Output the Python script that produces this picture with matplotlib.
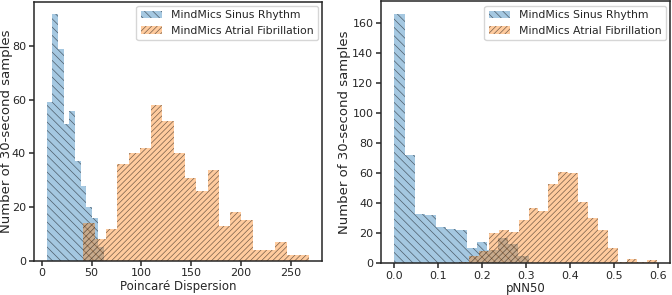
import matplotlib

matplotlib.use("Agg")
import matplotlib.pyplot as plt  # noqa: E402
import numpy as np  # noqa: E402

# ---- data: counts per equal-width bin over each (min, max) range ----------
PD_SINUS_RANGE = (5.0, 62.0)
PD_SINUS_COUNTS = [59, 92, 79, 51, 56, 37, 28, 20, 16, 5]
PD_AF_RANGE = (41.9, 268.3)
PD_AF_COUNTS = [14, 8, 12, 36, 40, 42, 58, 52, 40, 31,
                26, 34, 13, 18, 15, 4, 4, 7, 2, 2]

PNN_SINUS_RANGE = (0.0, 0.306)
PNN_SINUS_COUNTS = [166, 72, 33, 32, 24, 23, 22, 10, 14, 9, 17, 13, 5]
PNN_AF_RANGE = (0.148, 0.598)
PNN_AF_COUNTS = [1, 5, 8, 20, 22, 21, 29, 37, 35, 53,
                 61, 60, 41, 30, 22, 10, 1, 3, 1, 2]

LABEL_SR = "MindMics Sinus Rhythm"
LABEL_AF = "MindMics Atrial Fibrillation"
YLABEL = "Number of 30-second samples"

BLUE = "#1f77b4"
ORANGE = "#ff7f0e"
INK = "#262626"

plt.rcParams.update({
    "font.family": "DejaVu Sans",
    "font.size": 8,
    "axes.edgecolor": INK,
    "axes.linewidth": 1.1,
    "text.color": INK,
    "axes.labelcolor": INK,
    "xtick.color": INK,
    "ytick.color": INK,
    "xtick.major.size": 3.5,
    "ytick.major.size": 3.5,
    "xtick.major.width": 1.1,
    "ytick.major.width": 1.1,
    "xtick.major.pad": 2,
    "ytick.major.pad": 2,
    "hatch.color": "#00000088",
    "hatch.linewidth": 0.5,
})


def draw_hist(ax, rng, counts, **kw):
    edges = np.linspace(rng[0], rng[1], len(counts) + 1)
    centers = (edges[:-1] + edges[1:]) / 2
    ax.hist(centers, bins=edges, weights=counts, histtype="stepfilled",
            alpha=0.4, **kw)


def panel(ax, sr_rng, sr_counts, af_rng, af_counts, xlabel, ylab_x):
    draw_hist(ax, sr_rng, sr_counts, color=BLUE, hatch="\\\\\\\\", label=LABEL_SR)
    draw_hist(ax, af_rng, af_counts, color=ORANGE, hatch="//////", label=LABEL_AF)
    ax.set_xlabel(xlabel, fontsize=8.5, labelpad=1)
    ax.set_ylabel(YLABEL, fontsize=9.5)
    ax.yaxis.set_label_coords(ylab_x, 0.5)
    ax.legend(loc="upper right", fontsize=7.8, handlelength=2.0,
              handletextpad=0.8, edgecolor="#cccccc", framealpha=0.8,
              borderpad=0.4, borderaxespad=0.4)


fig = plt.figure(figsize=(6.72, 2.95), dpi=100)
ax1 = fig.add_axes([0.0499, 0.1163, 0.4298, 0.878])
ax2 = fig.add_axes([0.567, 0.1075, 0.4305, 0.8875])

panel(ax1, PD_SINUS_RANGE, PD_SINUS_COUNTS, PD_AF_RANGE, PD_AF_COUNTS,
      "Poincaré Dispersion", -0.07)
ax1.set_xticks([0, 50, 100, 150, 200, 250])
ax1.set_yticks([0, 20, 40, 60, 80])

panel(ax2, PNN_SINUS_RANGE, PNN_SINUS_COUNTS, PNN_AF_RANGE, PNN_AF_COUNTS,
      "pNN50", -0.105)
ax2.set_xticks([0.0, 0.1, 0.2, 0.3, 0.4, 0.5, 0.6])
ax2.set_yticks([0, 20, 40, 60, 80, 100, 120, 140, 160])

fig.savefig("out.png", dpi=100, facecolor="white")
